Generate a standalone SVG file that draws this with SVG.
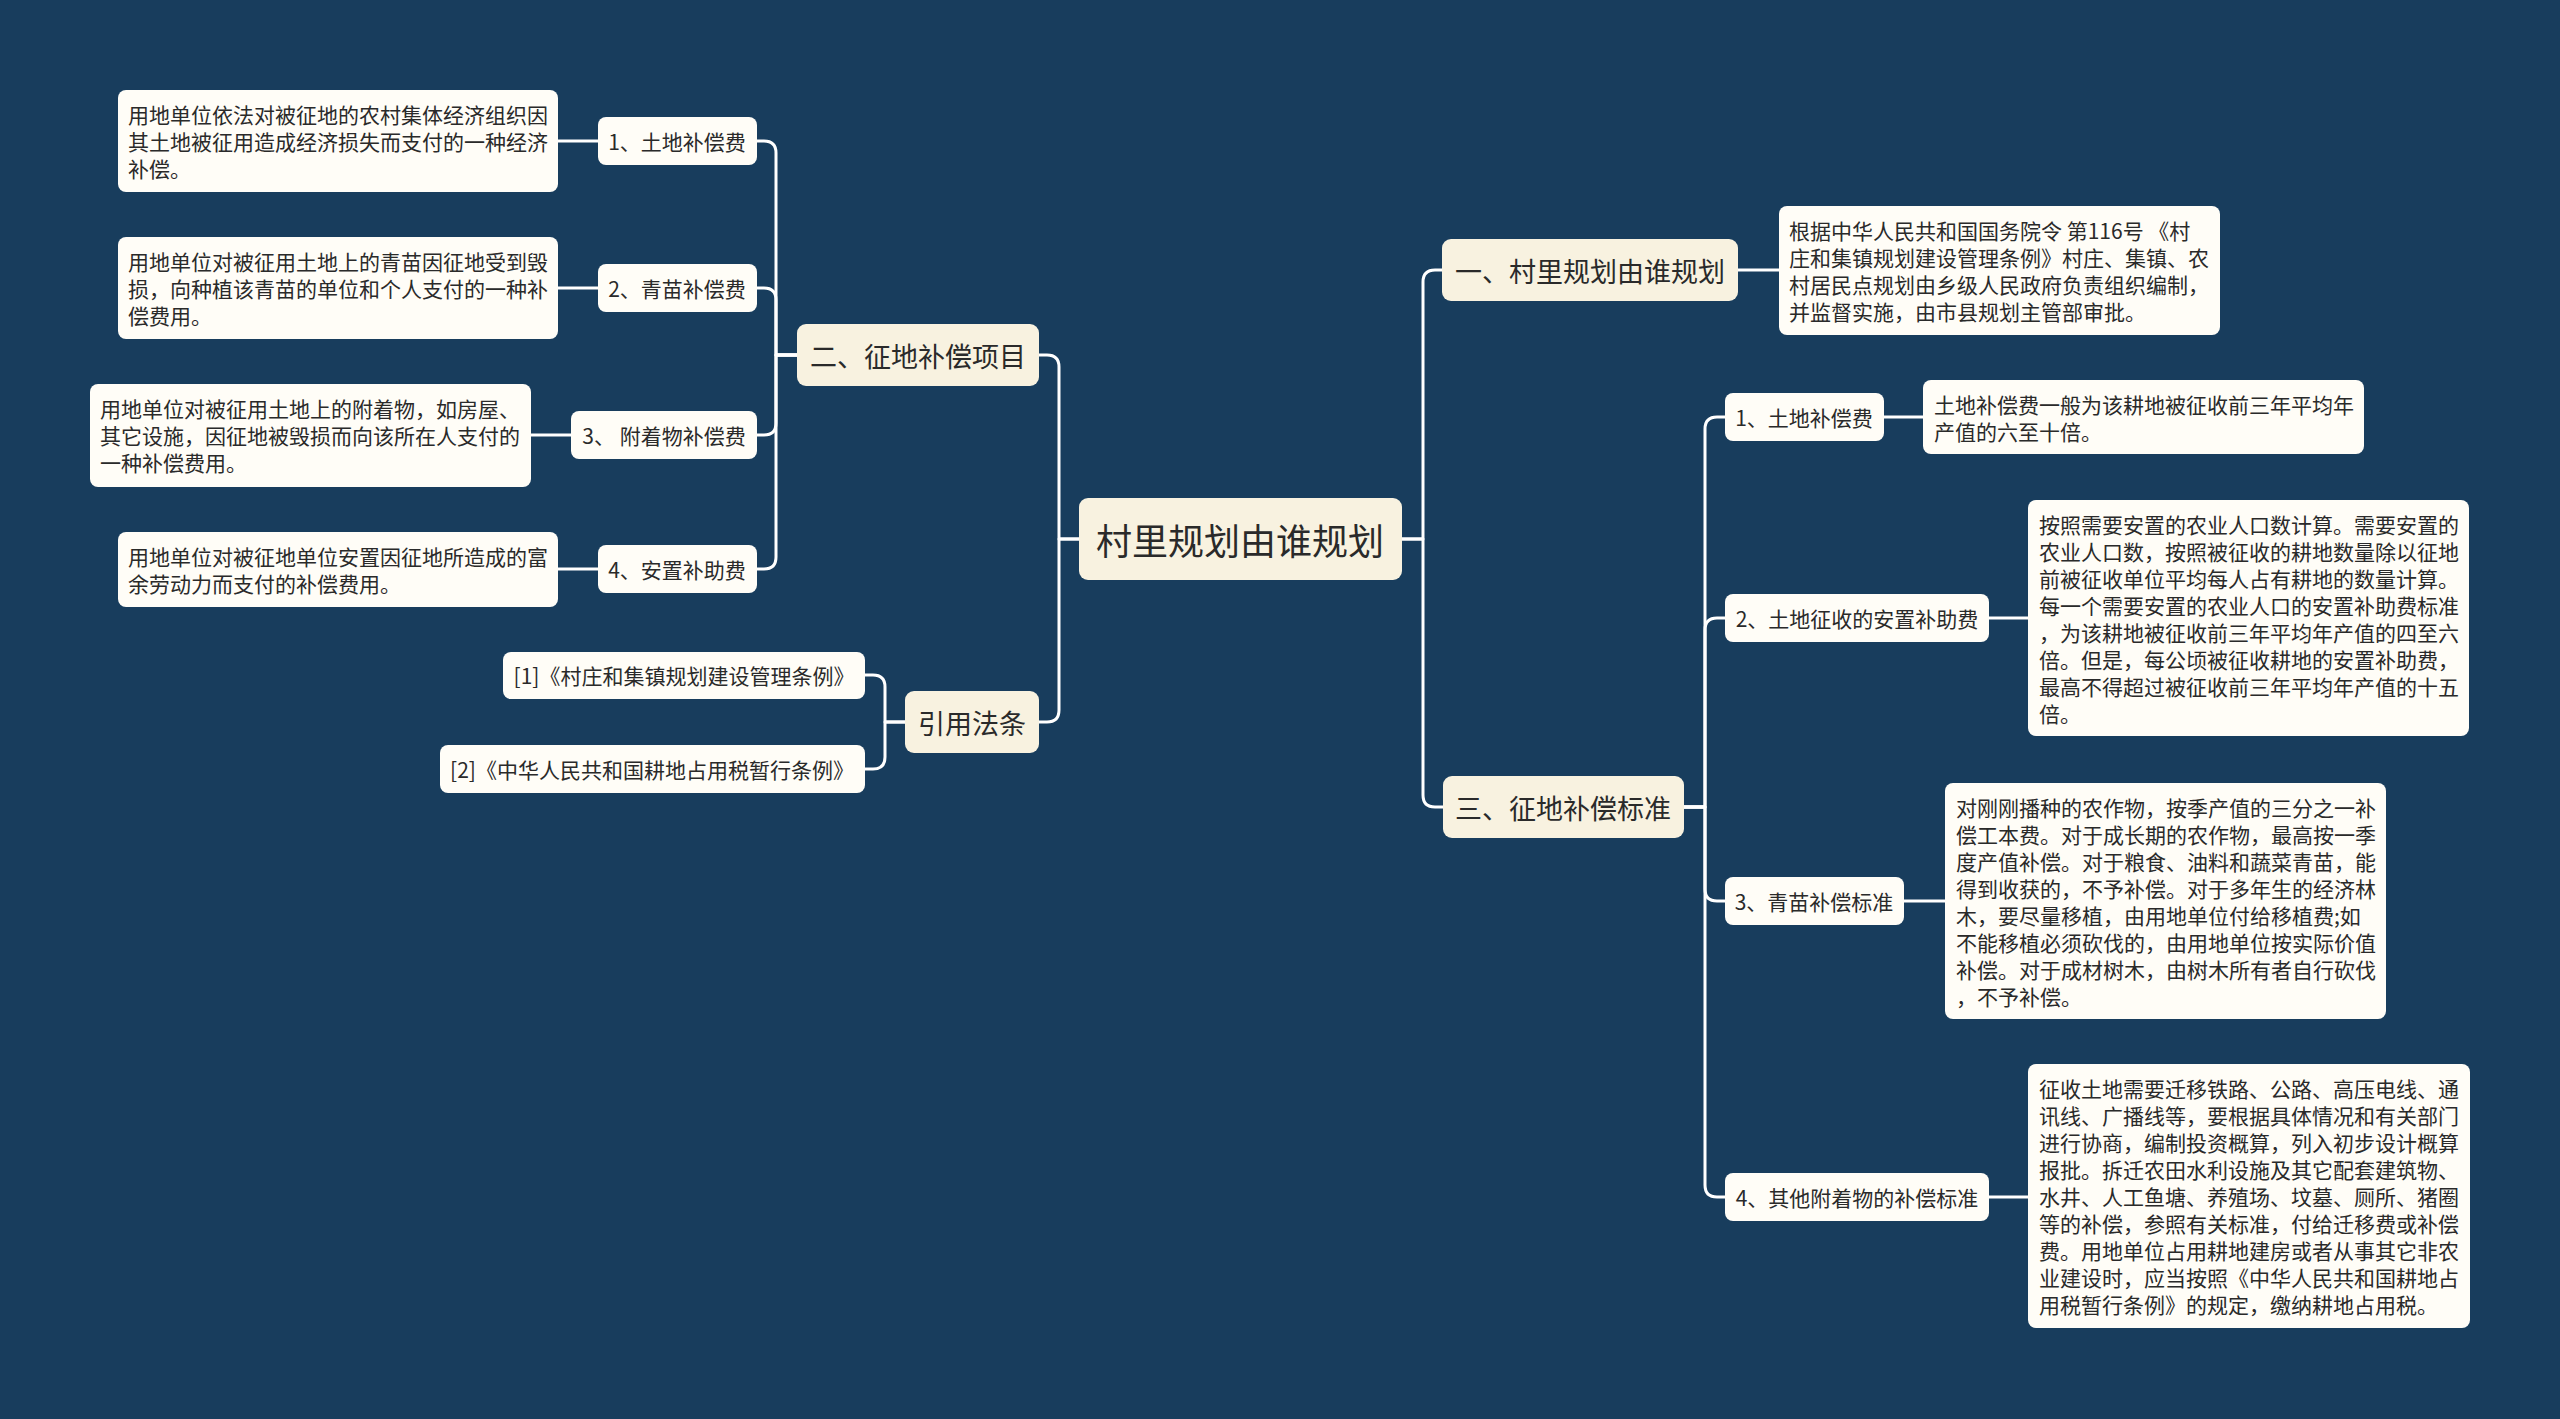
<svg xmlns="http://www.w3.org/2000/svg" width="2560" height="1419" viewBox="0 0 2560 1419">
<style>
text{font-family:"Noto Sans CJK SC","Noto Sans",sans-serif;fill:#2a2a2a;}
.bg{fill:#183d5d;}
.root rect{fill:#f8f2e0;}
.root text{font-size:36px;text-anchor:middle;dominant-baseline:central;}
.l1 rect{fill:#f8f2e0;}
.l1 text{font-size:27px;text-anchor:middle;dominant-baseline:central;}
.l2 rect{fill:#fffdf7;}
.l2 text{font-size:21px;text-anchor:middle;dominant-baseline:central;}
.leaf rect{fill:#fffdf7;}
.leaf text{font-size:21px;dominant-baseline:central;}
.conn path{fill:none;stroke:#ffffff;stroke-width:3;stroke-linecap:round;stroke-linejoin:round;}
</style>
<rect class="bg" x="0" y="0" width="2560" height="1419"/>

<g id="connectors" class="conn">
<path d="M1079,539 H1059 V367 Q1059,355 1047,355 H1039"/>
<path d="M1079,539 H1059 V710 Q1059,722 1047,722 H1039"/>
<path d="M1402,539 H1423 V282 Q1423,270 1435,270 H1442"/>
<path d="M1402,539 H1423 V795 Q1423,807 1435,807 H1443"/>
<path d="M797,355 H776 V153 Q776,141 764,141 H757"/>
<path d="M797,355 H776 V300 Q776,288 764,288 H757"/>
<path d="M797,355 H776 V423 Q776,435 764,435 H757"/>
<path d="M797,355 H776 V557 Q776,569 764,569 H757"/>
<path d="M905,722 H885 V687 Q885,675 873,675 H865"/>
<path d="M905,722 H885 V757 Q885,769 873,769 H865"/>
<path d="M1684,807 H1705 V429 Q1705,417 1717,417 H1725"/>
<path d="M1684,807 H1705 V630 Q1705,618 1717,618 H1725"/>
<path d="M1684,807 H1705 V889 Q1705,901 1717,901 H1725"/>
<path d="M1684,807 H1705 V1185 Q1705,1197 1717,1197 H1725"/>
<path d="M598,141 H558"/>
<path d="M598,288 H558"/>
<path d="M571,435 H531"/>
<path d="M598,569 H558"/>
<path d="M1738,270 H1779"/>
<path d="M1884,417 H1923"/>
<path d="M1989,618 H2028"/>
<path d="M1904,901 H1945"/>
<path d="M1989,1197 H2028"/>
</g>

<g id="root" class="root">
<rect x="1079" y="498" width="323" height="82" rx="9"/>
<text x="1240" y="539">村里规划由谁规划</text>
</g>

<g id="n-yi" class="l1">
<rect x="1442" y="239" width="296" height="62" rx="9"/>
<text x="1590" y="270">一、村里规划由谁规划</text>
</g>
<g id="n-er" class="l1">
<rect x="797" y="324" width="242" height="62" rx="9"/>
<text x="918" y="355">二、征地补偿项目</text>
</g>
<g id="n-san" class="l1">
<rect x="1443" y="776" width="241" height="62" rx="9"/>
<text x="1563" y="807">三、征地补偿标准</text>
</g>
<g id="n-yinyong" class="l1">
<rect x="905" y="691" width="134" height="62" rx="9"/>
<text x="972" y="722">引用法条</text>
</g>

<g id="n-left1" class="l2"><rect x="598" y="117" width="159" height="48" rx="8"/><text x="677" y="141">1、土地补偿费</text></g>
<g id="n-left2" class="l2"><rect x="598" y="264" width="159" height="48" rx="8"/><text x="677" y="288">2、青苗补偿费</text></g>
<g id="n-left3" class="l2"><rect x="571" y="411" width="186" height="48" rx="8"/><text x="664" y="435">3、 附着物补偿费</text></g>
<g id="n-left4" class="l2"><rect x="598" y="545" width="159" height="48" rx="8"/><text x="677" y="569">4、安置补助费</text></g>

<g id="n-cite1" class="l2"><rect x="503" y="652" width="362" height="47" rx="8"/><text x="684" y="675">[1]《村庄和集镇规划建设管理条例》</text></g>
<g id="n-cite2" class="l2"><rect x="440" y="745" width="425" height="48" rx="8"/><text x="652" y="769">[2]《中华人民共和国耕地占用税暂行条例》</text></g>

<g id="n-right1" class="l2"><rect x="1725" y="393" width="159" height="48" rx="8"/><text x="1804" y="417">1、土地补偿费</text></g>
<g id="n-right2" class="l2"><rect x="1725" y="594" width="264" height="48" rx="8"/><text x="1857" y="618">2、土地征收的安置补助费</text></g>
<g id="n-right3" class="l2"><rect x="1725" y="877" width="179" height="48" rx="8"/><text x="1814" y="901">3、青苗补偿标准</text></g>
<g id="n-right4" class="l2"><rect x="1725" y="1173" width="264" height="48" rx="8"/><text x="1857" y="1197">4、其他附着物的补偿标准</text></g>

<g id="leaf-left1" class="leaf">
<rect x="118" y="90" width="440" height="102" rx="8"/>
<text x="128" y="114">用地单位依法对被征地的农村集体经济组织因</text>
<text x="128" y="141">其土地被征用造成经济损失而支付的一种经济</text>
<text x="128" y="168">补偿。</text>
</g>
<g id="leaf-left2" class="leaf">
<rect x="118" y="237" width="440" height="102" rx="8"/>
<text x="128" y="261">用地单位对被征用土地上的青苗因征地受到毁</text>
<text x="128" y="288">损，向种植该青苗的单位和个人支付的一种补</text>
<text x="128" y="315">偿费用。</text>
</g>
<g id="leaf-left3" class="leaf">
<rect x="90" y="384" width="441" height="103" rx="8"/>
<text x="100" y="408">用地单位对被征用土地上的附着物，如房屋、</text>
<text x="100" y="435">其它设施，因征地被毁损而向该所在人支付的</text>
<text x="100" y="462">一种补偿费用。</text>
</g>
<g id="leaf-left4" class="leaf">
<rect x="118" y="532" width="440" height="75" rx="8"/>
<text x="128" y="556">用地单位对被征地单位安置因征地所造成的富</text>
<text x="128" y="583">余劳动力而支付的补偿费用。</text>
</g>

<g id="leaf-yi" class="leaf">
<rect x="1779" y="206" width="441" height="129" rx="8"/>
<text x="1789" y="230">根据中华人民共和国国务院令 第116号 《村</text>
<text x="1789" y="257">庄和集镇规划建设管理条例》村庄、集镇、农</text>
<text x="1789" y="284">村居民点规划由乡级人民政府负责组织编制，</text>
<text x="1789" y="311">并监督实施，由市县规划主管部审批。</text>
</g>
<g id="leaf-right1" class="leaf">
<rect x="1923" y="380" width="441" height="74" rx="8"/>
<text x="1934" y="404">土地补偿费一般为该耕地被征收前三年平均年</text>
<text x="1934" y="431">产值的六至十倍。</text>
</g>
<g id="leaf-right2" class="leaf">
<rect x="2028" y="500" width="441" height="236" rx="8"/>
<text x="2039" y="524">按照需要安置的农业人口数计算。需要安置的</text>
<text x="2039" y="551">农业人口数，按照被征收的耕地数量除以征地</text>
<text x="2039" y="578">前被征收单位平均每人占有耕地的数量计算。</text>
<text x="2039" y="605">每一个需要安置的农业人口的安置补助费标准</text>
<text x="2039" y="632">，为该耕地被征收前三年平均年产值的四至六</text>
<text x="2039" y="659">倍。但是，每公顷被征收耕地的安置补助费，</text>
<text x="2039" y="686">最高不得超过被征收前三年平均年产值的十五</text>
<text x="2039" y="713">倍。</text>
</g>
<g id="leaf-right3" class="leaf">
<rect x="1945" y="783" width="441" height="236" rx="8"/>
<text x="1956" y="807">对刚刚播种的农作物，按季产值的三分之一补</text>
<text x="1956" y="834">偿工本费。对于成长期的农作物，最高按一季</text>
<text x="1956" y="861">度产值补偿。对于粮食、油料和蔬菜青苗，能</text>
<text x="1956" y="888">得到收获的，不予补偿。对于多年生的经济林</text>
<text x="1956" y="915">木，要尽量移植，由用地单位付给移植费;如</text>
<text x="1956" y="942">不能移植必须砍伐的，由用地单位按实际价值</text>
<text x="1956" y="969">补偿。对于成材树木，由树木所有者自行砍伐</text>
<text x="1956" y="996">，不予补偿。</text>
</g>
<g id="leaf-right4" class="leaf">
<rect x="2028" y="1064" width="442" height="264" rx="8"/>
<text x="2039" y="1088">征收土地需要迁移铁路、公路、高压电线、通</text>
<text x="2039" y="1115">讯线、广播线等，要根据具体情况和有关部门</text>
<text x="2039" y="1142">进行协商，编制投资概算，列入初步设计概算</text>
<text x="2039" y="1169">报批。拆迁农田水利设施及其它配套建筑物、</text>
<text x="2039" y="1196">水井、人工鱼塘、养殖场、坟墓、厕所、猪圈</text>
<text x="2039" y="1223">等的补偿，参照有关标准，付给迁移费或补偿</text>
<text x="2039" y="1250">费。用地单位占用耕地建房或者从事其它非农</text>
<text x="2039" y="1277">业建设时，应当按照《中华人民共和国耕地占</text>
<text x="2039" y="1304">用税暂行条例》的规定，缴纳耕地占用税。</text>
</g>
</svg>
